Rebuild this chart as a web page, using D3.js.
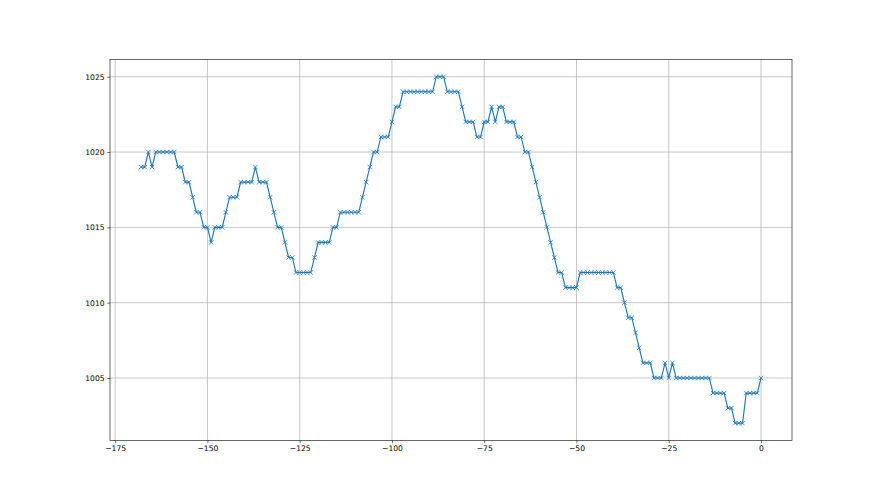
<!DOCTYPE html>
<html lang="en">
<head>
	<meta charset="utf-8">
	<title>Pressure, last 168 hours</title>
	<script src="https://cdn.jsdelivr.net/npm/d3@7/dist/d3.min.js" charset="utf-8"></script>
	<style>
		body { margin: 0; background: #fff; }
		.tick text { font-family: "DejaVu Sans", sans-serif; font-size: 7.6px; fill: #000; }
	</style>
</head>
<body>
	<div id="chart">
		<script type="text/javascript">

			// hours relative to now
			var hours = [
				-168,-167,-166,-165,-164,-163,-162,-161,-160,-159,
				-158,-157,-156,-155,-154,-153,-152,-151,-150,-149,
				-148,-147,-146,-145,-144,-143,-142,-141,-140,-139,
				-138,-137,-136,-135,-134,-133,-132,-131,-130,-129,
				-128,-127,-126,-125,-124,-123,-122,-121,-120,-119,
				-118,-117,-116,-115,-114,-113,-112,-111,-110,-109,
				-108,-107,-106,-105,-104,-103,-102,-101,-100,-99,
				-98,-97,-96,-95,-94,-93,-92,-91,-90,-89,
				-88,-87,-86,-85,-84,-83,-82,-81,-80,-79,
				-78,-77,-76,-75,-74,-73,-72,-71,-70,-69,
				-68,-67,-66,-65,-64,-63,-62,-61,-60,-59,
				-58,-57,-56,-55,-54,-53,-52,-51,-50,-49,
				-48,-47,-46,-45,-44,-43,-42,-41,-40,-39,
				-38,-37,-36,-35,-34,-33,-32,-31,-30,-29,
				-28,-27,-26,-25,-24,-23,-22,-21,-20,-19,
				-18,-17,-16,-15,-14,-13,-12,-11,-10,-9,
				-8,-7,-6,-5,-4,-3,-2,-1,0
			];

			// pressure readings
			var pressure = [
				1019,1019,1020,1019,1020,1020,1020,1020,1020,1020,
				1019,1019,1018,1018,1017,1016,1016,1015,1015,1014,
				1015,1015,1015,1016,1017,1017,1017,1018,1018,1018,
				1018,1019,1018,1018,1018,1017,1016,1015,1015,1014,
				1013,1013,1012,1012,1012,1012,1012,1013,1014,1014,
				1014,1014,1015,1015,1016,1016,1016,1016,1016,1016,
				1017,1018,1019,1020,1020,1021,1021,1021,1022,1023,
				1023,1024,1024,1024,1024,1024,1024,1024,1024,1024,
				1025,1025,1025,1024,1024,1024,1024,1023,1022,1022,
				1022,1021,1021,1022,1022,1023,1022,1023,1023,1022,
				1022,1022,1021,1021,1020,1020,1019,1018,1017,1016,
				1015,1014,1013,1012,1012,1011,1011,1011,1011,1012,
				1012,1012,1012,1012,1012,1012,1012,1012,1012,1011,
				1011,1010,1009,1009,1008,1007,1006,1006,1006,1005,
				1005,1005,1006,1005,1006,1005,1005,1005,1005,1005,
				1005,1005,1005,1005,1005,1004,1004,1004,1004,1003,
				1003,1002,1002,1002,1004,1004,1004,1004,1005
			];

			var xTicks = [-175, -150, -125, -100, -75, -50, -25, 0];
			var yTicks = [1005, 1010, 1015, 1020, 1025];

			var outer_width = 880;
			var outer_height = 495;
			var margin = {top: 59.4, right: 88, bottom: 54.5, left: 110};
			var w = outer_width - margin.left - margin.right;
			var h = outer_height - margin.top - margin.bottom;

			var data = hours.map(function(d, i){ return {x: d, y: pressure[i]}; });

			var svg = d3.select("#chart")
						.append("svg")
						.attr("width", outer_width)
						.attr("height", outer_height)
						.append("g")
						.attr("transform", "translate(" + margin.left + "," + margin.top + ")");

			// 5% padding like matplotlib autoscale
			var xMin = d3.min(hours), xMax = d3.max(hours);
			var yMin = d3.min(pressure), yMax = d3.max(pressure);
			var xPad = (xMax - xMin) * 0.05, yPad = (yMax - yMin) * 0.05;

			var xScale = d3.scaleLinear()
							.domain([xMin - xPad, xMax + xPad])
							.range([0, w]);
			var yScale = d3.scaleLinear()
							.domain([yMin - yPad, yMax + yPad])
							.range([h, 0]);

			var fmt = function(d){ return d < 0 ? "\u2212" + Math.abs(d) : "" + d; };

			// grid
			svg.append("g").selectAll("line")
				.data(xTicks)
				.enter()
					.append("line")
					.attr("x1", function(d){ return xScale(d); })
					.attr("x2", function(d){ return xScale(d); })
					.attr("y1", 0)
					.attr("y2", h)
					.attr("stroke", "#b0b0b0")
					.attr("stroke-width", 0.7);
			svg.append("g").selectAll("line")
				.data(yTicks)
				.enter()
					.append("line")
					.attr("y1", function(d){ return yScale(d); })
					.attr("y2", function(d){ return yScale(d); })
					.attr("x1", 0)
					.attr("x2", w)
					.attr("stroke", "#b0b0b0")
					.attr("stroke-width", 0.7);

			// the line
			var line = d3.line()
						.x(function(d){ return xScale(d.x); })
						.y(function(d){ return yScale(d.y); });

			svg.append("path")
				.datum(data)
				.attr("d", line)
				.attr("fill", "none")
				.attr("stroke", "#1f77b4")
				.attr("stroke-width", 1.15);

			// x markers
			var m = 2.2;
			svg.append("g").selectAll("path")
				.data(data)
				.enter()
					.append("path")
					.attr("transform", function(d){ return "translate(" + xScale(d.x) + "," + yScale(d.y) + ")"; })
					.attr("d", "M" + (-m) + "," + (-m) + "L" + m + "," + m + "M" + (-m) + "," + m + "L" + m + "," + (-m))
					.attr("stroke", "#1f77b4")
					.attr("stroke-width", 0.8)
					.attr("fill", "none");

			// axes
			var xAxis = d3.axisBottom(xScale)
							.tickValues(xTicks)
							.tickSize(2.7)
							.tickPadding(2.7)
							.tickFormat(fmt);
			var yAxis = d3.axisLeft(yScale)
							.tickValues(yTicks)
							.tickSize(2.7)
							.tickPadding(2.7)
							.tickFormat(fmt);

			var gx = svg.append("g")
				.attr("transform", "translate(0," + h + ")")
				.call(xAxis);
			var gy = svg.append("g")
				.call(yAxis);

			gx.select(".domain").remove();
			gy.select(".domain").remove();
			svg.selectAll(".tick line").attr("stroke", "#000").attr("stroke-width", 0.6);

			// frame
			svg.append("rect")
				.attr("x", 0)
				.attr("y", 0)
				.attr("width", w)
				.attr("height", h)
				.attr("fill", "none")
				.attr("stroke", "#000")
				.attr("stroke-width", 0.6);

		</script>
	</div>
</body>
</html>
